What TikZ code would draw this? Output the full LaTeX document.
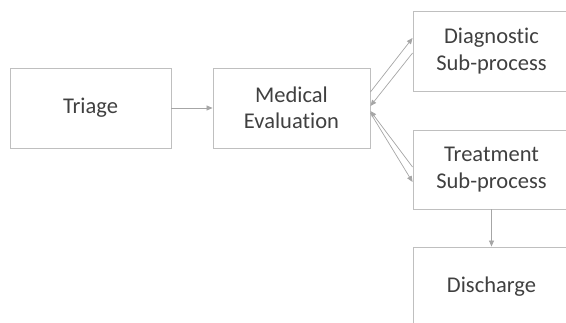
\documentclass[tikz,border=0pt]{standalone}
\usepackage{fontspec}
\setmainfont[Ligatures=NoCommon]{Carlito}
\usetikzlibrary{arrows.meta}
\definecolor{boxline}{HTML}{BFBFBF}
\definecolor{arrline}{HTML}{A6A6A6}
\definecolor{txt}{HTML}{404040}
\begin{document}
\begin{tikzpicture}[x=1pt,y=1pt,
  box/.style={draw=boxline,line width=0.9pt,fill=white,text=txt,align=center,
    font=\fontsize{22.5}{26.5}\selectfont,inner sep=0pt,minimum height=80pt},
  arr/.style={draw=arrline,line width=0.7pt,-{Triangle[length=6pt,width=5pt]}}]
\useasboundingbox (0,0) rectangle (566,322);
\clip (0,0) rectangle (566,322);
\node[box,minimum width=161pt] (tri) at (90.5,214) {Triage};
\node[box,minimum width=157pt] (med) at (291.5,214) {Medical\\Evaluation};
\node[box,minimum width=157pt,minimum height=80pt] (dia) at (491.5,271) {Diagnostic\\Sub-process};
\node[box,minimum width=157pt,minimum height=79pt] (tre) at (491.5,152.5) {Treatment\\Sub-process};
\node[box,minimum width=157pt,minimum height=80pt] (dis) at (491.5,35) {Discharge};
\draw[arr] (tri.east) -- (med.west);
\draw[arr] ([yshift=16pt]med.east) -- ([yshift=13pt]dia.west);
\draw[arr] ([yshift=-2pt]dia.west) -- ([yshift=2pt]med.east);
\draw[arr] ([yshift=-5pt]med.east) -- ([yshift=-12.5pt]tre.west);
\draw[arr] ([yshift=2.5pt]tre.west) -- ([yshift=-3pt]med.east);
\draw[arr] (tre.south) -- (dis.north);
\end{tikzpicture}
\end{document}
